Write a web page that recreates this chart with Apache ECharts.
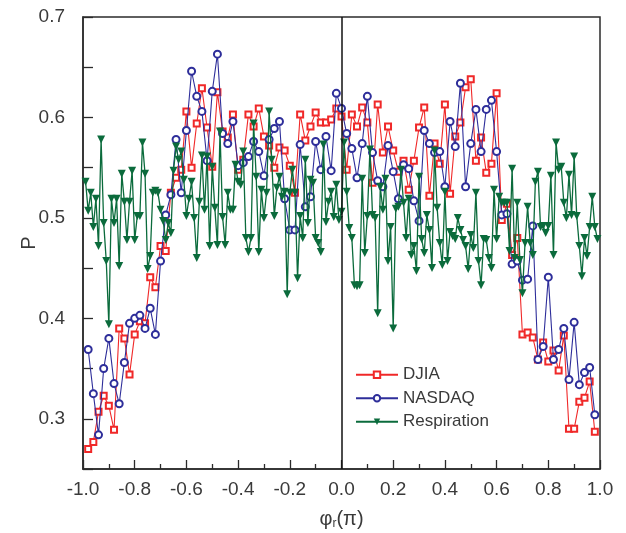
<!DOCTYPE html>
<html>
<head>
<meta charset="utf-8">
<script src="https://cdn.jsdelivr.net/npm/echarts@6/dist/echarts.min.js"></script>
<style>
html,body{margin:0;padding:0;background:#fff;}
#chart{width:626px;height:533px;}
</style>
</head>
<body>
<div id="chart"></div>
<script>
// Stock-index series sampled on phi = -0.98 ... 0.98 (step 0.02)
var indexStart = -0.98, indexStep = 0.02;
var djia = [0.270,0.277,0.307,0.323,0.313,0.289,0.390,0.380,0.344,0.384,
0.397,0.395,0.441,0.431,0.472,0.467,0.525,0.540,0.548,0.606,
0.550,0.594,0.629,0.590,0.551,0.625,0.586,0.580,0.603,0.548,
0.558,0.603,0.591,0.609,0.581,0.572,0.550,0.570,0.567,0.552,
0.525,0.603,0.577,0.591,0.605,0.595,0.595,0.598,0.609,0.601,
0.548,0.603,0.591,0.610,0.595,0.535,0.613,0.565,0.591,0.567,
0.546,0.557,0.528,0.557,0.590,0.610,0.522,0.574,0.554,0.613,
0.524,0.581,0.595,0.630,0.638,0.557,0.580,0.545,0.554,0.624,
0.498,0.514,0.463,0.480,0.384,0.386,0.381,0.359,0.376,0.357,
0.368,0.348,0.383,0.290,0.290,0.317,0.321,0.337,0.287];
var nasdaq = [0.369,0.325,0.284,0.350,0.380,0.335,0.315,0.356,0.395,0.400,
0.403,0.390,0.410,0.384,0.457,0.503,0.523,0.578,0.525,0.587,
0.646,0.621,0.606,0.557,0.626,0.663,0.584,0.574,0.596,0.552,
0.555,0.561,0.576,0.566,0.542,0.578,0.589,0.596,0.519,0.488,
0.488,0.573,0.511,0.521,0.576,0.548,0.581,0.547,0.624,0.609,
0.584,0.569,0.540,0.574,0.621,0.565,0.537,0.531,0.572,0.546,
0.519,0.553,0.549,0.517,0.497,0.587,0.574,0.565,0.566,0.531,
0.596,0.571,0.634,0.531,0.574,0.608,0.566,0.608,0.617,0.566,
0.503,0.504,0.454,0.457,0.438,0.439,0.492,0.359,0.372,0.441,
0.359,0.369,0.390,0.339,0.396,0.334,0.346,0.351,0.304];
// Respiration sampled on phi = -0.99 ... 0.99 (step 0.01)
var respStart = -0.99, respStep = 0.01;
var respiration = [0.536,0.507,0.525,0.491,0.519,0.472,0.578,0.495,0.457,0.394,
0.519,0.495,0.519,0.452,0.544,0.516,0.478,0.516,0.547,0.478,
0.502,0.502,0.575,0.544,0.449,0.462,0.525,0.527,0.525,0.508,
0.497,
0.478,0.495,0.485,0.547,0.571,0.558,0.566,0.538,0.502,0.519,
0.536,0.500,0.460,0.516,0.562,0.508,0.561,0.472,0.551,0.510,
0.473,0.586,0.501,0.473,0.525,0.508,0.508,0.553,0.536,0.533,
0.566,0.480,0.466,0.480,0.594,0.541,0.466,0.528,
0.500,0.525,0.606,0.558,0.502,0.530,0.541,0.521,0.526,0.424,
0.525,0.548,0.525,0.440,0.502,0.480,0.558,0.495,0.538,0.535,
0.480,0.475,0.466,0.573,0.496,0.516,0.526,0.501,0.533,0.498,
0.506,0.575,0.526,0.490,
0.480,0.433,0.432,0.433,0.539,0.465,0.502,0.568,0.503,0.500,
0.405,0.531,0.508,0.539,0.457,0.491,0.390,0.509,0.511,0.548,
0.515,0.480,0.519,0.463,0.472,0.447,0.541,0.479,0.465,0.503,
0.488,0.450,0.567,
0.510,0.475,0.453,0.526,0.457,0.486,0.482,0.479,0.500,0.488,
0.478,0.472,0.449,0.483,0.470,0.525,0.457,0.433,0.479,0.478,
0.460,0.450,0.528,0.479,0.521,0.515,0.515,0.515,0.467,0.549,
0.460,0.515,0.458,0.425,0.475,
0.511,0.475,0.463,0.536,0.546,0.491,0.492,0.485,0.492,0.542,
0.463,0.575,0.548,0.551,0.515,0.500,0.543,0.503,0.561,0.502,
0.472,0.442,0.480,0.462,0.491,0.521,0.491,0.479];
var seriesNames = ['DJIA','NASDAQ','Respiration'];
var yTicks = [0.3,0.4,0.5,0.6,0.7];

function pairs(start, step, vals){
  return vals.map(function(v,i){ return [+(start + step*i).toFixed(4), v]; });
}

var FONT = "'Liberation Sans', Arial, Helvetica, sans-serif";
var AXIS = '#2b2b2b';
var TXT = '#3a3a3a';

var chart = echarts.init(document.getElementById('chart'), null, {renderer:'canvas'});
chart.setOption({
  animation: false,
  backgroundColor: '#fff',
  grid: {left: 83, right: 26, top: 17, bottom: 64, show: true, borderColor: AXIS, borderWidth: 1.5, outerBoundsMode: 'none'},
  legend: {
    data: seriesNames,
    orient: 'vertical',
    left: 355, top: 363, padding: 0,
    itemWidth: 42, itemHeight: 8, itemGap: 0,
    textStyle: {fontFamily: FONT, fontSize: 17, color: TXT, lineHeight: 23.5},
    backgroundColor: 'transparent'
  },
  xAxis: {
    type: 'value', min: -1, max: 1, interval: 0.2,
    name: 'φ{sub|r}(π)', nameLocation: 'middle', nameGap: 39, nameMoveOverlap: false,
    nameTextStyle: {fontFamily: FONT, fontSize: 20, color: TXT,
      rich: {sub: {fontFamily: FONT, fontSize: 12, color: TXT, verticalAlign: 'bottom', padding: [10,0,0,0]}}},
    axisLine: {show: true, onZero: false, lineStyle: {color: AXIS, width: 1.5}},
    axisTick: {show: true, inside: true, length: 9, lineStyle: {color: AXIS, width: 1.3}},
    minorTick: {show: true, splitNumber: 2, length: 5, lineStyle: {color: AXIS, width: 1.3}},
    axisLabel: {fontFamily: FONT, fontSize: 19, color: TXT, margin: 11,
      formatter: function(v){ return v.toFixed(1); }},
    splitLine: {show: false}
  },
  yAxis: {
    type: 'value', min: 0.25, max: 0.7, interval: 0.05,
    name: 'P', nameLocation: 'middle', nameGap: 44, nameRotate: 90, nameMoveOverlap: false,
    nameTextStyle: {fontFamily: FONT, fontSize: 20, color: TXT},
    axisLine: {show: true, onZero: false, lineStyle: {color: AXIS, width: 1.5}},
    axisTick: {show: true, inside: true, length: 10, lineStyle: {color: AXIS, width: 1.3}},
    axisLabel: {fontFamily: FONT, fontSize: 19, color: TXT, margin: 18,
      formatter: function(v){
        for (var k=0;k<yTicks.length;k++){ if (Math.abs(v-yTicks[k])<1e-6) return yTicks[k].toFixed(1); }
        return '';
      }},
    splitLine: {show: false}
  },
  series: [
    {
      name: seriesNames[0], type: 'line', data: pairs(indexStart, indexStep, djia),
      symbol: 'emptyRect', symbolSize: 6, itemStyle: {color: '#f02828', borderWidth: 1.1},
      lineStyle: {color: '#f02828', width: 1.1}, z: 2,
      markLine: {silent: true, symbol: 'none', label: {show: false},
        lineStyle: {color: '#111', width: 1.5, type: 'solid'}, data: [{xAxis: 0}]}
    },
    {
      name: seriesNames[1], type: 'line', data: pairs(indexStart, indexStep, nasdaq),
      symbol: 'emptyCircle', symbolSize: 7, itemStyle: {color: '#2e2e9a', borderWidth: 1.1},
      lineStyle: {color: '#2e2e9a', width: 1.1}, z: 3
    },
    {
      name: seriesNames[2], type: 'line', data: pairs(respStart, respStep, respiration),
      symbol: 'triangle', symbolRotate: 180, symbolSize: 8, itemStyle: {color: '#0b6b3c'},
      lineStyle: {color: '#0b6b3c', width: 1.3}, z: 4
    }
  ]
});
</script>
</body>
</html>
